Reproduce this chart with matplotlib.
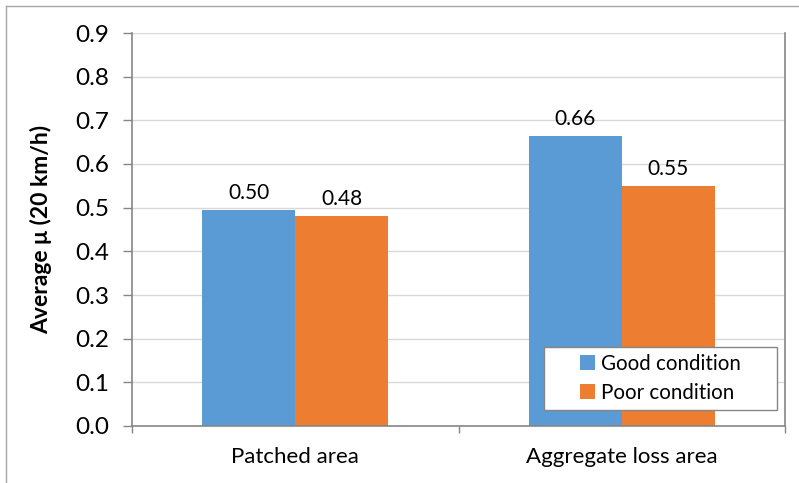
import matplotlib
matplotlib.use('Agg')
from matplotlib import pyplot as plt
from matplotlib.lines import Line2D
from matplotlib.patches import Rectangle
import numpy as np

categories = ['Patched area', 'Aggregate loss area']
series_names = ['Good condition', 'Poor condition']
good_vals = [0.495, 0.664]
poor_vals = [0.481, 0.549]
good_labels = ['0.50', '0.66']
poor_labels = ['0.48', '0.55']
yticks = [0.0, 0.1, 0.2, 0.3, 0.4, 0.5, 0.6, 0.7, 0.8, 0.9]

plt.rcParams['font.family'] = ['Lato', 'DejaVu Sans']

fig = plt.figure(figsize=(7.99, 4.83), dpi=100)
ax = fig.add_axes([132/799, 57/483, 653/799, 393/483])

blue = '#5B9BD5'
orange = '#ED7D31'
gray = '#868686'

x = np.arange(len(categories))
w = 0.285
b1 = ax.bar(x - w/2, good_vals, w, color=blue, label=series_names[0], zorder=2)
b2 = ax.bar(x + w/2, poor_vals, w, color=orange, label=series_names[1], zorder=2)

# value labels over the bars
for bars, labs in [(b1, good_labels), (b2, poor_labels)]:
    for rect, lab in zip(bars, labs):
        ax.annotate(lab, (rect.get_x() + rect.get_width()/2, rect.get_height()),
                    xytext=(0, 5), textcoords='offset points',
                    ha='center', va='bottom', fontsize=15, color='#000000')

ax.set_xlim(-0.5, 1.5)
ax.set_ylim(0, 0.9)
ax.set_yticks(yticks)
ax.set_yticklabels([f'{t:.1f}' for t in yticks], fontsize=17.5)
ax.set_xticks(x)
ax.set_xticklabels(categories, fontsize=16)
ax.set_xticks([-0.5, 0.5, 1.5], minor=True)
ax.tick_params(axis='x', which='major', length=0, pad=15)
ax.tick_params(axis='x', which='minor', length=5, color=gray, width=1)
ax.tick_params(axis='y', length=6.5, color=gray, width=1, pad=10)

ax.grid(axis='y', color='#D9D9D9', linewidth=1, zorder=0)
ax.set_axisbelow(True)
for s in ['left', 'bottom', 'right']:
    ax.spines[s].set_color(gray)
    ax.spines[s].set_linewidth(1.2)
ax.spines['top'].set_visible(False)

ax.set_ylabel('Average μ (20 km/h)', fontsize=16.5, fontweight='bold')
ax.yaxis.set_label_coords(-0.1225, 0.5)

# legend box (Excel style, wider than its content)
ax.add_patch(Rectangle((0.631, 0.0407), 0.357, 0.160, transform=ax.transAxes,
                       facecolor='white', edgecolor=gray, lw=1, zorder=5))
leg = ax.legend(loc='center', bbox_to_anchor=(0.8095, 0.121), borderaxespad=0,
                fontsize=14.8, frameon=False, handlelength=0.73,
                handleheight=0.73, handletextpad=0.3, labelspacing=0.45,
                borderpad=0)
leg.set_zorder(6)

# outer chart border
fig.add_artist(Line2D([6/799, 6/799], [0, 1 - 6/483], color='#A6A6A6', lw=1, transform=fig.transFigure))
fig.add_artist(Line2D([6/799, 1], [1 - 6/483, 1 - 6/483], color='#A6A6A6', lw=1, transform=fig.transFigure))

fig.savefig('out.png', dpi=100)
